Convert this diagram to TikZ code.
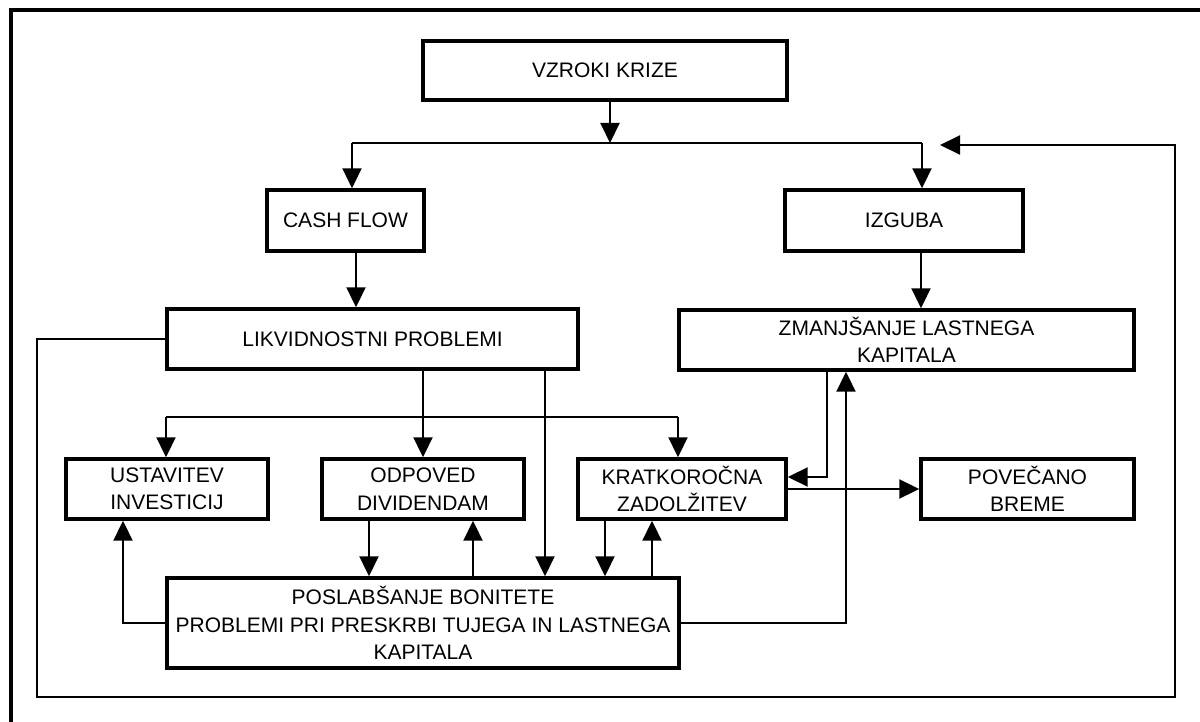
\documentclass[tikz,border=0pt]{standalone}
\usepackage{fontspec}
\setmainfont{Liberation Sans}
\usetikzlibrary{arrows.meta}
\begin{document}
\begin{tikzpicture}[x=1pt,y=-1pt,
  box/.style={draw,line width=3.4pt,inner sep=0pt,align=center,font=\fontsize{21}{27.5}\selectfont},
  conn/.style={line width=2pt},
  arr/.style={conn,-{Triangle[length=20pt,width=19pt]}},
  frame/.style={line width=4pt,line join=miter}]
\useasboundingbox (0,0) rectangle (1200,722);
\draw[frame] (10.5,722) -- (10.5,10.5) -- (1200,10.5);
% boxes
\node[box,minimum width=364pt,minimum height=59pt] (vz) at (605,70.5) {VZROKI KRIZE};
\node[box,minimum width=157pt,minimum height=61pt] (cf) at (345.5,220.5) {CASH FLOW};
\node[box,minimum width=238pt,minimum height=61pt] (iz) at (904,220.5) {IZGUBA};
\node[box,minimum width=411pt,minimum height=60pt] (lp) at (372.5,339) {LIKVIDNOSTNI PROBLEMI};
\node[box,minimum width=455pt,minimum height=60pt] (zm) at (906.5,340) {ZMANJŠANJE LASTNEGA\\KAPITALA};
\node[box,minimum width=202pt,minimum height=60pt] (us) at (167,489) {USTAVITEV\\INVESTICIJ};
\node[box,minimum width=202pt,minimum height=60pt] (od) at (423,489) {ODPOVED\\DIVIDENDAM};
\node[box,minimum width=208pt,minimum height=60pt] (kr) at (682,489) {KRATKOROČNA\\ZADOLŽITEV};
\node[box,minimum width=213pt,minimum height=60pt] (pv) at (1027.5,489) {POVEČANO\\BREME};
\node[box,minimum width=512pt,minimum height=90pt] (po) at (423,623) {POSLABŠANJE BONITETE\\PROBLEMI PRI PRESKRBI TUJEGA IN LASTNEGA\\KAPITALA};
% junction coordinates
\coordinate (j1) at (610,143);
\coordinate (jl) at (352,143);
\coordinate (jr) at (922,143);
\coordinate (xcf) at (356,0);
\coordinate (xiz) at (921,0);
\coordinate (dl) at (166,417);
\coordinate (dr) at (678,417);
\coordinate (x545) at (545,0);
\coordinate (x369) at (369,0);
\coordinate (x473) at (473,0);
\coordinate (x605) at (605,0);
\coordinate (x652) at (652,0);
\coordinate (x123) at (123,0);
\coordinate (k1) at (827,477);
\coordinate (x846) at (846,0);
\coordinate (bl) at (37,697);
\coordinate (br) at (1175,697);
\coordinate (tr) at (1175,145);
\coordinate (tip) at (940,145);
% connectors
\draw[arr] (vz.south -| j1) -- (j1);
\draw[conn] (jl) -- (jr);
\draw[arr] (jl) -- (jl |- cf.north);
\draw[arr] (jr) -- (jr |- iz.north);
\draw[arr] (cf.south -| xcf) -- (lp.north -| xcf);
\draw[arr] (iz.south -| xiz) -- (zm.north -| xiz);
\draw[arr] (lp.west) -| (bl) -- (br) -- (tr) -- (tip);
\draw[arr] (lp.south -| od.north) -- (od.north);
\draw[conn] (dl) -- (dr);
\draw[arr] (dl) -- (dl |- us.north);
\draw[arr] (dr) -- (dr |- kr.north);
\draw[arr] (lp.south -| x545) -- (po.north -| x545);
\draw[arr] (od.south -| x369) -- (po.north -| x369);
\draw[arr] (po.north -| x473) -- (od.south -| x473);
\draw[arr] (kr.south -| x605) -- (po.north -| x605);
\draw[arr] (po.north -| x652) -- (kr.south -| x652);
\draw[arr] (po.west) -| (x123 |- us.south);
\draw[arr] (zm.south -| k1) -- (k1) -- (k1 -| kr.east);
\draw[arr] (po.east) -| (x846 |- zm.south);
\draw[arr] (kr.east) -- (pv.west);
\end{tikzpicture}
\end{document}
